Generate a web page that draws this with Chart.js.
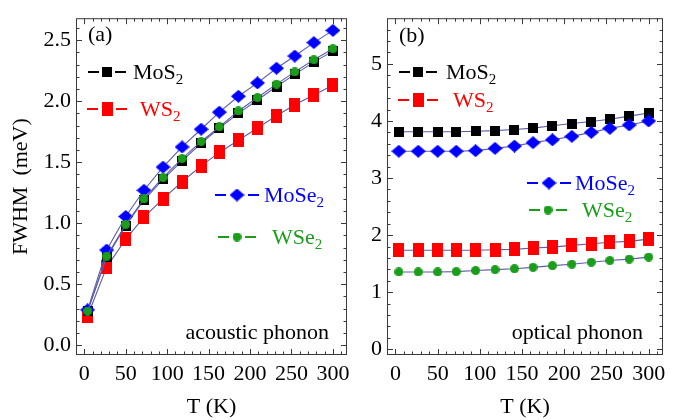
<!DOCTYPE html>
<html>
<head>
<meta charset="utf-8">
<script src="https://cdn.jsdelivr.net/npm/chart.js@4.4.0/dist/chart.umd.min.js"></script>
<style>
  html, body { margin: 0; padding: 0; background: #fff; }
  #wrap { position: relative; width: 693px; height: 420px; overflow: hidden; }
  canvas { position: absolute; top: 0; }
  #panelA { left: 0; }
  #panelB { left: 360px; }
</style>
</head>
<body>
<div id="wrap">
  <canvas id="panelA" width="360" height="420"></canvas>
  <canvas id="panelB" width="333" height="420"></canvas>
</div>
<script>
// Temperature grid (K)
const temperature = [4, 27, 50, 72, 95, 118, 141, 163, 186, 209, 232, 254, 277, 300];
const seriesNames = ['MoS2', 'WS2', 'MoSe2', 'WSe2'];

// FWHM (meV) from acoustic-phonon scattering
const acousticMoS2  = [0.28, 0.72, 0.98, 1.19, 1.36, 1.51, 1.655, 1.78, 1.90, 2.01, 2.12, 2.22, 2.32, 2.41];
const acousticWS2   = [0.24, 0.64, 0.87, 1.05, 1.20, 1.34, 1.47, 1.58, 1.68, 1.78, 1.88, 1.97, 2.05, 2.13];
const acousticMoSe2 = [0.29, 0.78, 1.055, 1.27, 1.46, 1.625, 1.77, 1.91, 2.04, 2.15, 2.27, 2.37, 2.48, 2.58];
const acousticWSe2  = [0.28, 0.73, 0.99, 1.20, 1.375, 1.53, 1.67, 1.79, 1.92, 2.03, 2.14, 2.24, 2.34, 2.43];

// FWHM (meV) from optical-phonon scattering
const opticalMoS2  = [3.81, 3.81, 3.81, 3.81, 3.82, 3.83, 3.85, 3.875, 3.915, 3.955, 3.99, 4.03, 4.085, 4.14];
const opticalWS2   = [1.735, 1.735, 1.735, 1.735, 1.735, 1.745, 1.75, 1.775, 1.79, 1.82, 1.85, 1.875, 1.89, 1.93];
const opticalMoSe2 = [3.47, 3.47, 3.47, 3.47, 3.48, 3.52, 3.56, 3.62, 3.67, 3.73, 3.80, 3.87, 3.93, 4.00];
const opticalWSe2  = [1.355, 1.355, 1.355, 1.36, 1.38, 1.395, 1.41, 1.435, 1.465, 1.49, 1.525, 1.555, 1.58, 1.615];

// Tick labels
const tempTicks = [0, 50, 100, 150, 200, 250, 300];
const acousticTicks = [0, 0.5, 1.0, 1.5, 2.0, 2.5];
const opticalTicks = [0, 1, 2, 3, 4, 5];

const FONT = 'Liberation Serif, Times New Roman, serif';
const LINK_COLOR = '#5c5cab';
const GREEN = '#1a9e1a';

function marker(shape, color, w, h) {
  const c = document.createElement('canvas');
  c.width = w; c.height = h;
  const g = c.getContext('2d');
  g.fillStyle = color;
  g.beginPath();
  if (shape === 'rect') {
    g.rect(0, 0, w, h);
  } else if (shape === 'diamond') {
    g.moveTo(w / 2, 0); g.lineTo(w, h / 2); g.lineTo(w / 2, h); g.lineTo(0, h / 2); g.closePath();
  } else {
    g.arc(w / 2, h / 2, w / 2, 0, Math.PI * 2);
  }
  g.fill();
  return c;
}

const seriesStyle = {
  MoS2:  { color: '#000000', img: marker('rect', '#000000', 10, 10), half: 5, order: 2 },
  WS2:   { color: '#ff0000', img: marker('rect', '#ff0000', 11, 14), half: 6, order: 3 },
  MoSe2: { color: '#0000ff', img: marker('diamond', '#0000ff', 15, 13), half: 8, order: 1 },
  WSe2:  { color: GREEN,     img: marker('circle', GREEN, 9, 9), half: 5, order: 0 }
};

function buildDatasets(valueLists) {
  return seriesNames.map((name, i) => ({
    label: name,
    data: temperature.map((t, k) => ({ x: t, y: valueLists[i][k] })),
    borderColor: LINK_COLOR,
    borderWidth: 1.1,
    pointStyle: seriesStyle[name].img,
    order: seriesStyle[name].order,
    clip: false
  }));
}

// text with trailing digits set as subscript
function drawChem(ctx, label, x, y, color, size) {
  const m = label.match(/^(\D+)(\d*)$/);
  ctx.fillStyle = color;
  ctx.textBaseline = 'alphabetic';
  ctx.textAlign = 'left';
  ctx.font = size + 'px ' + FONT;
  ctx.fillText(m[1], x, y);
  const w = ctx.measureText(m[1]).width;
  if (m[2]) {
    ctx.font = Math.round(size * 0.7) + 'px ' + FONT;
    ctx.fillText(m[2], x + w, y + size * 0.22);
  }
}

const panelDecor = {
  id: 'panelDecor',
  afterDatasetsDraw(chart, args, opts) {
    const { ctx, chartArea: a, scales } = chart;
    const xs = scales.x, ys = scales.y;
    ctx.save();
    // frame
    ctx.strokeStyle = '#3a3a3a';
    ctx.lineWidth = 1;
    ctx.strokeRect(a.left + 0.5, a.top + 0.5, a.right - a.left - 1, a.bottom - a.top - 1);
    // inward ticks on all four sides
    ctx.beginPath();
    for (let k = 0; k <= opts.xMinorCount; k++) {
      const v = k * opts.xMinor;
      const px = Math.round(xs.getPixelForValue(v)) + 0.5;
      if (px < a.left + 1 || px > a.right - 1) continue;
      const len = (Math.abs(v % opts.xMajor) < 1e-9) ? 6 : 3.5;
      ctx.moveTo(px, a.bottom); ctx.lineTo(px, a.bottom - len);
      ctx.moveTo(px, a.top); ctx.lineTo(px, a.top + len);
    }
    for (let k = 0; k <= opts.yMinorCount; k++) {
      const v = k * opts.yMinor;
      const py = Math.round(ys.getPixelForValue(v)) + 0.5;
      if (py < a.top + 1 || py > a.bottom - 1) continue;
      const r = v / opts.yMajor;
      const len = (Math.abs(r - Math.round(r)) < 1e-6) ? 6 : 3.5;
      ctx.moveTo(a.left, py); ctx.lineTo(a.left + len, py);
      ctx.moveTo(a.right, py); ctx.lineTo(a.right - len, py);
    }
    ctx.stroke();

    // panel tag and caption
    ctx.fillStyle = '#000';
    ctx.font = '22px ' + FONT;
    ctx.textBaseline = 'alphabetic';
    ctx.textAlign = 'left';
    ctx.fillText(opts.tag.text, opts.tag.x, opts.tag.y);
    ctx.textAlign = 'right';
    ctx.fillText(opts.caption.text, opts.caption.x, opts.caption.y);

    // legend entries
    opts.legend.forEach(e => {
      const st = seriesStyle[e.name];
      ctx.strokeStyle = st.color;
      ctx.lineWidth = 2;
      ctx.beginPath();
      ctx.moveTo(e.mx - st.half - 14, e.my); ctx.lineTo(e.mx - st.half - 3, e.my);
      ctx.moveTo(e.mx + st.half + 3, e.my); ctx.lineTo(e.mx + st.half + 14, e.my);
      ctx.stroke();
      ctx.drawImage(st.img, e.mx - st.img.width / 2, e.my - st.img.height / 2);
      drawChem(ctx, e.name, e.tx, e.my + 7, st.color, 22);
    });
    ctx.restore();
  }
};

function makePanel(canvasId, values, yTicks, yMin, yMax, yFmt, yAxisWidth, yTitle, decor, padRight) {
  return new Chart(document.getElementById(canvasId), {
    type: 'line',
    data: { datasets: buildDatasets(values) },
    options: {
      responsive: false,
      animation: false,
      events: [],
      layout: { padding: { left: 0, right: padRight, top: 9, bottom: 0 } },
      plugins: { legend: { display: false }, tooltip: { enabled: false }, panelDecor: decor },
      scales: {
        x: {
          type: 'linear', min: -10, max: 317,
          afterBuildTicks: s => { s.ticks = tempTicks.map(v => ({ value: v })); },
          afterFit: s => { s.height = 65; },
          grid: { display: false, drawTicks: false },
          border: { display: false },
          ticks: { color: '#000', font: { family: FONT, size: 22 }, padding: 6, maxRotation: 0, autoSkip: false },
          title: { display: true, text: 'T (K)', color: '#000', font: { family: FONT, size: 22 }, padding: { top: 0, bottom: 0 } }
        },
        y: {
          type: 'linear', min: yMin, max: yMax,
          afterBuildTicks: s => { s.ticks = yTicks.map(v => ({ value: v })); },
          afterFit: s => { s.width = yAxisWidth; },
          grid: { display: false, drawTicks: false },
          border: { display: false },
          ticks: { color: '#000', font: { family: FONT, size: 22 }, padding: 5, autoSkip: false, callback: yFmt },
          title: { display: !!yTitle, text: yTitle, color: '#000', font: { family: FONT, size: 22 }, padding: { top: 8, bottom: 0 } }
        }
      }
    },
    plugins: [panelDecor]
  });
}

makePanel('panelA',
  [acousticMoS2, acousticWS2, acousticMoSe2, acousticWSe2],
  acousticTicks, -0.08, 2.68, v => Number(v).toFixed(1), 76, 'FWHM  (meV)',
  {
    xMinor: 10, xMajor: 50, xMinorCount: 32,
    yMinor: 0.1, yMajor: 0.5, yMinorCount: 27,
    tag: { text: '(a)', x: 88, y: 41 },
    caption: { text: 'acoustic phonon', x: 329, y: 339 },
    legend: [
      { name: 'MoS2',  mx: 107, my: 72,  tx: 133 },
      { name: 'WS2',   mx: 107, my: 109, tx: 140 },
      { name: 'MoSe2', mx: 237, my: 195, tx: 264 },
      { name: 'WSe2',  mx: 237, my: 237, tx: 272 }
    ]
  }, 13);

makePanel('panelB',
  [opticalMoS2, opticalWS2, opticalMoSe2, opticalWSe2],
  opticalTicks, -0.1, 5.8, v => String(v), 27, '',
  {
    xMinor: 10, xMajor: 50, xMinorCount: 32,
    yMinor: 0.2, yMajor: 1, yMinorCount: 29,
    tag: { text: '(b)', x: 39, y: 42 },
    caption: { text: 'optical phonon', x: 283, y: 339 },
    legend: [
      { name: 'MoS2',  mx: 58,  my: 72,  tx: 86 },
      { name: 'WS2',   mx: 58,  my: 100, tx: 93 },
      { name: 'MoSe2', mx: 189, my: 183, tx: 215 },
      { name: 'WSe2',  mx: 188, my: 210, tx: 222 }
    ]
  }, 30);
</script>
</body>
</html>
